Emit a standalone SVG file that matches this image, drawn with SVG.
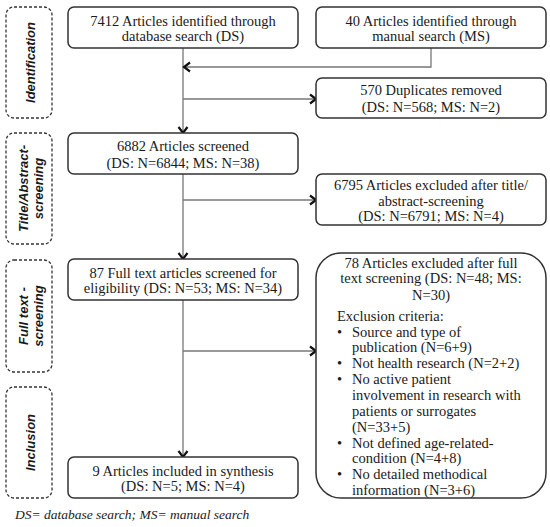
<svg xmlns="http://www.w3.org/2000/svg" width="550" height="527" viewBox="0 0 550 527">
<defs>
<marker id="arr" markerUnits="userSpaceOnUse" markerWidth="12" markerHeight="12" viewBox="0 0 12 12" refX="10" refY="6" orient="auto">
<path d="M4,1.5 L10,6 L4,10.5" fill="none" stroke="#111" stroke-width="2.2"/>
</marker>
<style>
.box{fill:#fff;stroke:#333;stroke-width:1.5}
.stage{fill:#fff;stroke:#333;stroke-width:1.3;stroke-dasharray:3 2}
.t{font-family:"Liberation Serif",serif;font-size:14.5px;fill:#1a1a1a}
.c{text-anchor:middle}
.s{font-family:"Liberation Sans",Arial,sans-serif;font-size:13px;font-weight:bold;font-style:italic;fill:#1a1a1a;text-anchor:middle}
.ln{fill:none;stroke:#777;stroke-width:1.3}
.f{font-family:"Liberation Serif",serif;font-size:13.5px;font-style:italic;fill:#1a1a1a}
</style>
</defs>

<g id="stage-identification">
<rect class="stage" x="6" y="7" width="46" height="111" rx="8"/>
<text class="s" transform="translate(34.5,62.5) rotate(-90)">Identification</text>
</g>
<g id="stage-title-abstract">
<rect class="stage" x="6" y="133" width="46" height="111" rx="8"/>
<text class="s" transform="translate(27.5,188.5) rotate(-90)">Title/Abstract-</text>
<text class="s" transform="translate(42.5,188.5) rotate(-90)">screening</text>
</g>
<g id="stage-full-text">
<rect class="stage" x="6" y="260" width="46" height="112" rx="8"/>
<text class="s" transform="translate(27.5,316) rotate(-90)">Full text -</text>
<text class="s" transform="translate(42.5,316) rotate(-90)">screening</text>
</g>
<g id="stage-inclusion">
<rect class="stage" x="6" y="387" width="46" height="111" rx="8"/>
<text class="s" transform="translate(34.5,442.5) rotate(-90)">Inclusion</text>
</g>

<g id="connectors">
<line class="ln" x1="183" y1="48" x2="183" y2="133" marker-end="url(#arr)"/>
<polyline class="ln" points="431,48 431,67 184,67" marker-end="url(#arr)"/>
<line class="ln" x1="183" y1="99" x2="316" y2="99" marker-end="url(#arr)"/>
<line class="ln" x1="183" y1="174" x2="183" y2="259" marker-end="url(#arr)"/>
<line class="ln" x1="183" y1="200" x2="316" y2="200" marker-end="url(#arr)"/>
<line class="ln" x1="183" y1="300" x2="183" y2="457" marker-end="url(#arr)"/>
<line class="ln" x1="183" y1="351" x2="316" y2="351" marker-end="url(#arr)"/>
</g>

<g id="node-db">
<rect class="box" x="68" y="7" width="230" height="41" rx="6"/>
<text class="t c" x="183" y="26">7412 Articles identified through</text>
<text class="t c" x="183" y="41">database search (DS)</text>
</g>
<g id="node-ms">
<rect class="box" x="316" y="7" width="230" height="41" rx="6"/>
<text class="t c" x="431" y="26">40 Articles identified through</text>
<text class="t c" x="431" y="41">manual search (MS)</text>
</g>
<g id="node-duplicates">
<rect class="box" x="316" y="78" width="230" height="40" rx="6"/>
<text class="t c" x="431" y="95">570 Duplicates removed</text>
<text class="t c" x="431" y="112">(DS: N=568; MS: N=2)</text>
</g>
<g id="node-screened">
<rect class="box" x="68" y="133" width="230" height="41" rx="6"/>
<text class="t c" x="183" y="151">6882 Articles screened</text>
<text class="t c" x="183" y="168">(DS: N=6844; MS: N=38)</text>
</g>
<g id="node-excluded-title">
<rect class="box" x="316" y="174" width="230" height="51" rx="6"/>
<text class="t c" x="431" y="189.5">6795 Articles excluded after title/</text>
<text class="t c" x="431" y="206">abstract-screening</text>
<text class="t c" x="431" y="221">(DS: N=6791; MS: N=4)</text>
</g>
<g id="node-fulltext">
<rect class="box" x="68" y="259" width="230" height="41" rx="6"/>
<text class="t c" x="183" y="278">87 Full text articles screened for</text>
<text class="t c" x="183" y="293">eligibility (DS: N=53; MS: N=34)</text>
</g>
<g id="node-excluded-full">
<rect class="box" x="316" y="253" width="230" height="245" rx="25"/>
<text class="t c" x="431" y="267.5">78 Articles excluded after full</text>
<text class="t c" x="431" y="283">text screening (DS: N=48; MS:</text>
<text class="t c" x="431" y="299.5">N=30)</text>
<text class="t" x="337" y="320.5">Exclusion criteria:</text>
<text class="t" x="337" y="336.5">•</text>
<text class="t" x="352" y="336.5">Source and type of</text>
<text class="t" x="352" y="351.5">publication (N=6+9)</text>
<text class="t" x="337" y="367.5">•</text>
<text class="t" x="352" y="367.5">Not health research (N=2+2)</text>
<text class="t" x="337" y="384">•</text>
<text class="t" x="352" y="384">No active patient</text>
<text class="t" x="352" y="399.5">involvement in research with</text>
<text class="t" x="352" y="415.5">patients or surrogates</text>
<text class="t" x="352" y="431.5">(N=33+5)</text>
<text class="t" x="337" y="447.5">•</text>
<text class="t" x="352" y="447.5">Not defined age-related-</text>
<text class="t" x="352" y="462.5">condition (N=4+8)</text>
<text class="t" x="337" y="479">•</text>
<text class="t" x="352" y="479">No detailed methodical</text>
<text class="t" x="352" y="495">information (N=3+6)</text>
</g>
<g id="node-included">
<rect class="box" x="68" y="457" width="230" height="41" rx="6"/>
<text class="t c" x="183" y="476">9 Articles included in synthesis</text>
<text class="t c" x="183" y="491">(DS: N=5; MS: N=4)</text>
</g>
<text class="f" x="15" y="519">DS= database search; MS= manual search</text>
</svg>
